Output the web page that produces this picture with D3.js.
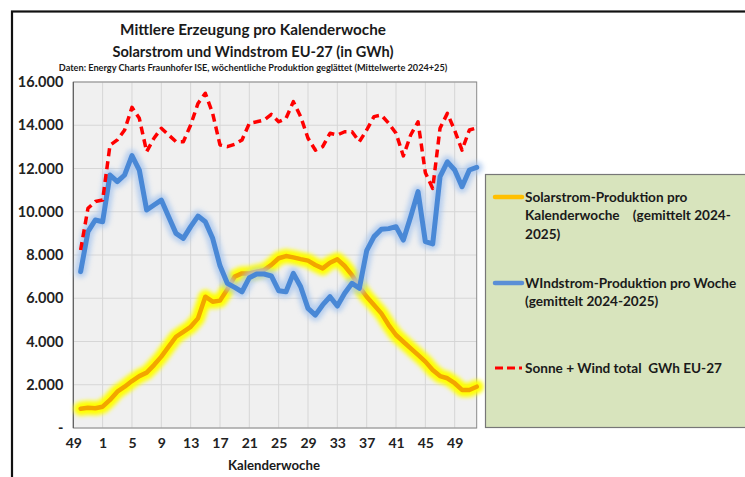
<!DOCTYPE html>
<html>
<head>
<meta charset="utf-8">
<script src="https://cdn.jsdelivr.net/npm/d3@7"></script>
<style>
  body { margin: 0; background: #fff; }
  svg { display: block; font-family: Lato, "Open Sans", sans-serif; font-weight: bold; }
</style>
</head>
<body>
<svg width="745" height="477"></svg>
<script>
const weeks = [49, 50, 51, 52].concat(d3.range(1, 53));
const tickWeeks = [49, 1, 5, 9, 13, 17, 21, 25, 29, 33, 37, 41, 45, 49];
const yTicks = [0, 2000, 4000, 6000, 8000, 10000, 12000, 14000, 16000];

// GWh per week, first slot (KW 49) has no value
const solar = [null, 890, 940, 910, 985, 1300, 1680, 1910, 2170, 2400, 2560, 2910, 3300, 3760, 4220,
  4450, 4680, 5070, 6070, 5840, 5890, 6410, 7000, 7150, 7150, 7230, 7300, 7540, 7850, 7950, 7890,
  7810, 7740, 7540, 7380, 7640, 7800, 7490, 7070, 6530, 6070, 5690, 5300, 4760, 4300, 3990, 3680,
  3380, 3070, 2680, 2400, 2300, 2070, 1760, 1760, 1910];
const wind = [null, 7230, 9080, 9620, 9540, 11700, 11390, 11700, 12600, 11930, 10080, 10310, 10540,
  9770, 9000, 8770, 9310, 9800, 9540, 8770, 7500, 6690, 6500, 6300, 6950, 7120, 7120, 7030, 6350,
  6300, 7150, 6530, 5530, 5220, 5690, 6070, 5640, 6230, 6690, 6460, 8200, 8850, 9190, 9220, 9310,
  8690, 9770, 10930, 8620, 8510, 11620, 12310, 11930, 11160, 11930, 12050];
const total = [null, 8230, 10160, 10470, 10540, 13070, 13320, 13780, 14830, 14320, 12780, 13400,
  13860, 13550, 13240, 13240, 14010, 15010, 15480, 14550, 13090, 13010, 13120, 13320, 14090, 14160,
  14240, 14500, 14160, 14320, 15090, 14400, 13400, 12850, 13010, 13630, 13550, 13700, 13700, 13240,
  13780, 14400, 14470, 14090, 13630, 12580, 13550, 14160, 11800, 11080, 13860, 14550, 13760, 12850,
  13780, 13880];

const legendItems = [
  { key: 'solar', lines: ['Solarstrom-Produktion pro', 'Kalenderwoche    (gemittelt 2024-', '2025)'] },
  { key: 'wind', lines: ['WIndstrom-Produktion pro Woche', '(gemittelt 2024-2025)'] },
  { key: 'total', lines: ['Sonne + Wind total  GWh EU-27'] }
];

const svg = d3.select('svg');
const plot = { left: 73.3, right: 476.7, top: 82, bottom: 428 };

const de = d3.formatLocale({ decimal: ',', thousands: '.', grouping: [3], currency: ['', ' €'] });
const fmt = v => (v === 0 ? '-' : de.format(',d')(v));

// scale text so that it fills a given width (Calibri substitute)
const fit = (sel, w) => {
  sel.each(function () {
    const size = parseFloat(this.getAttribute('font-size'));
    const len = this.getComputedTextLength();
    this.setAttribute('font-size', (size * w / len).toFixed(2));
  });
  return sel;
};

const defs = svg.append('defs');
defs.append('filter').attr('id', 'glowY').attr('x', '-10%').attr('y', '-10%').attr('width', '120%').attr('height', '120%')
  .append('feGaussianBlur').attr('stdDeviation', 1.9);
defs.append('filter').attr('id', 'glowB').attr('x', '-10%').attr('y', '-10%').attr('width', '120%').attr('height', '120%')
  .append('feGaussianBlur').attr('stdDeviation', 2.6);
defs.append('filter').attr('id', 'soft')
  .append('feGaussianBlur').attr('stdDeviation', 0.5);

svg.append('rect')
  .attr('x', 12).attr('y', 11.5)
  .attr('width', 800).attr('height', 500)
  .attr('fill', '#fff')
  .attr('stroke', '#111')
  .attr('stroke-width', 2.2);

const x = d3.scalePoint()
  .domain(d3.range(weeks.length))
  .range([plot.left, plot.right]);

const y = d3.scaleLinear()
  .domain([0, 16000])
  .range([plot.bottom, plot.top]);

svg.append('rect')
  .attr('x', plot.left).attr('y', plot.top)
  .attr('width', plot.right - plot.left).attr('height', plot.bottom - plot.top)
  .attr('fill', '#f0f0f0');

const tickIdx = weeks.map((w, i) => i).filter(i => i % 4 === 0);

const grid = svg.append('g').attr('class', 'grid')
  .attr('stroke', '#d6d6d6')
  .attr('stroke-width', 1);

grid.selectAll('.h')
  .data(yTicks)
  .enter()
  .append('line')
    .attr('x1', plot.left).attr('x2', plot.right)
    .attr('y1', d => y(d)).attr('y2', d => y(d));

grid.selectAll('.v')
  .data(tickIdx)
  .enter()
  .append('line')
    .attr('x1', d => x(d)).attr('x2', d => x(d))
    .attr('y1', plot.top).attr('y2', plot.bottom);

svg.append('rect')
  .attr('x', plot.left).attr('y', plot.top)
  .attr('width', plot.right - plot.left).attr('height', plot.bottom - plot.top)
  .attr('fill', 'none')
  .attr('stroke', '#8a8a8a');

svg.append('line')
  .attr('x1', plot.left).attr('x2', plot.left)
  .attr('y1', plot.top).attr('y2', plot.bottom)
  .attr('stroke', '#555');

const yAxis = svg.append('g')
  .attr('transform', `translate(${plot.left - 10},0)`)
  .call(d3.axisLeft(y).tickValues(yTicks).tickFormat(fmt).tickSize(0).tickPadding(0));
yAxis.select('.domain').remove();
yAxis.selectAll('text')
  .attr('font-family', 'Lato, sans-serif')
  .attr('font-weight', 'bold')
  .attr('font-size', 14.5)
  .attr('fill', '#222');

const xAxis = svg.append('g')
  .attr('transform', `translate(0,${plot.bottom + 10})`)
  .call(d3.axisBottom(x).tickValues(tickIdx).tickFormat((d, i) => tickWeeks[i]).tickSize(0).tickPadding(0));
xAxis.select('.domain').remove();
xAxis.selectAll('text')
  .attr('font-family', 'Lato, sans-serif')
  .attr('font-weight', 'bold')
  .attr('font-size', 14)
  .attr('fill', '#222');

const line = d3.line()
  .defined(d => d !== null)
  .x((d, i) => x(i))
  .y(d => y(d));

const series = svg.append('g').attr('class', 'series')
  .attr('fill', 'none')
  .attr('stroke-linejoin', 'round')
  .attr('stroke-linecap', 'round');

series.append('path')
  .datum(solar)
  .attr('d', line)
  .attr('stroke', '#ffff00')
  .attr('stroke-width', 14)
  .attr('filter', 'url(#glowY)');

series.append('path')
  .datum(solar)
  .attr('d', line)
  .attr('stroke', '#f2a500')
  .attr('stroke-width', 4.5)
  .attr('filter', 'url(#soft)');

series.append('path')
  .datum(wind)
  .attr('d', line)
  .attr('stroke', '#a8c6ee')
  .attr('stroke-width', 12)
  .attr('opacity', 0.8)
  .attr('filter', 'url(#glowB)');

series.append('path')
  .datum(wind)
  .attr('d', line)
  .attr('stroke', '#4a88d6')
  .attr('stroke-width', 5)
  .attr('filter', 'url(#soft)');

series.append('path')
  .datum(total)
  .attr('d', line)
  .attr('stroke', '#ff0000')
  .attr('stroke-width', 3.5)
  .attr('stroke-linecap', 'butt')
  .attr('stroke-dasharray', '8,5');

// titles
const title = svg.append('g')
  .attr('text-anchor', 'middle')
  .attr('fill', '#1a1a1a');

fit(title.append('text')
  .attr('x', 253).attr('y', 35)
  .attr('font-size', 16)
  .text('Mittlere Erzeugung pro Kalenderwoche'), 266);

fit(title.append('text')
  .attr('x', 253).attr('y', 57)
  .attr('font-size', 16)
  .text('Solarstrom und Windstrom EU-27 (in GWh)'), 281);

fit(title.append('text')
  .attr('x', 253).attr('y', 70.5)
  .attr('font-size', 9)
  .text('Daten: Energy Charts Fraunhofer ISE, wöchentliche Produktion geglättet (Mittelwerte 2024+25)'), 389);

fit(svg.append('text')
  .attr('x', 274).attr('y', 470)
  .attr('text-anchor', 'middle')
  .attr('font-size', 12.5)
  .attr('fill', '#1a1a1a')
  .text('Kalenderwoche'), 92);

// legend
const legend = svg.append('g').attr('class', 'legend');

legend.append('rect')
  .attr('x', 485.5).attr('y', 174.5)
  .attr('width', 270).attr('height', 253)
  .attr('fill', '#d8e4bd')
  .attr('stroke', '#777')
  .attr('stroke-width', 1.2);

const legendY = { solar: 197, wind: 283, total: 368 };
const swatch = {
  solar: { stroke: '#ffc000', width: 4.5, dash: null },
  wind: { stroke: '#5b8fd6', width: 4.5, dash: null },
  total: { stroke: '#ff0000', width: 3, dash: '8,4' }
};

const item = legend.selectAll('.item')
  .data(legendItems)
  .enter()
  .append('g')
    .attr('class', 'item')
    .attr('transform', d => `translate(0,${legendY[d.key]})`);

item.append('line')
  .attr('x1', 495).attr('x2', 522)
  .attr('stroke', d => swatch[d.key].stroke)
  .attr('stroke-width', d => swatch[d.key].width)
  .attr('stroke-dasharray', d => swatch[d.key].dash)
  .attr('stroke-linecap', d => (d.key === 'total' ? 'butt' : 'round'));

item.selectAll('text')
  .data(d => d.lines)
  .enter()
  .append('text')
    .attr('x', 525)
    .attr('y', (d, i) => i * 18.3 + 5)
    .attr('font-size', 13.6)
    .attr('fill', '#1a1a1a')
    .attr('xml:space', 'preserve')
    .style('white-space', 'pre')
    .text(d => d);
</script>
</body>
</html>
